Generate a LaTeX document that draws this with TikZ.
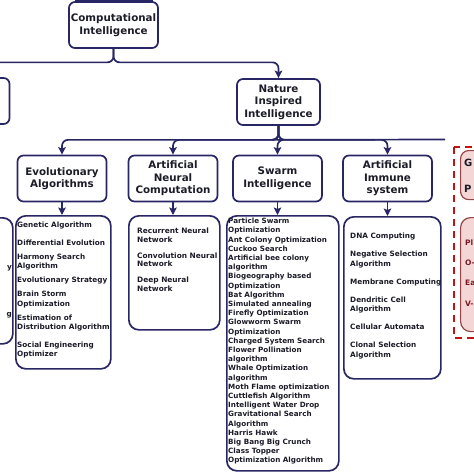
\documentclass[tikz,border=0pt]{standalone}
\usepackage{fontspec}
\setmainfont{DejaVu Sans}
\usepackage{tikz}
\usetikzlibrary{arrows.meta}
\usetikzlibrary{positioning}

\definecolor{navy}{RGB}{40,38,100}
\definecolor{ink}{RGB}{28,28,40}
\definecolor{dashred}{RGB}{190,20,20}
\definecolor{pinkfill}{RGB}{245,214,214}
\definecolor{pinkline}{RGB}{150,70,70}
\definecolor{maroon}{RGB}{120,25,35}

\begin{document}
\begin{tikzpicture}[x=1pt,y=-1pt,
    headbox/.style={draw=navy,line width=1.7pt,rounded corners=6pt,fill=white,
      minimum width=89pt,minimum height=46pt,inner sep=0pt,align=center,
      text=ink,font=\bfseries\fontsize{10.3}{12.5}\selectfont},
    listbox/.style={draw=navy,line width=1.7pt,rounded corners=10pt,fill=white,
      anchor=north west,inner sep=0pt},
    listtext/.style={anchor=north west,align=left,inner sep=0pt,text=ink,
      font=\bfseries\fontsize{7.3}{9.5}\selectfont},
    conn/.style={draw=navy,line width=1.7pt,rounded corners=6pt},
    arr/.style={conn,-{Stealth[length=7.5pt,width=7.5pt,inset=1.5pt]}}]
    \useasboundingbox (0,0) rectangle (474,474);
    \clip (0,0) rectangle (474,474);

    % first level
    \fill[navy] (75,0) rectangle (153,1.5);
    \node[headbox] (CI) at (113.5,25) {Computational\\Intelligence};
    \node[headbox] (LI) at (-35,101) {};
    \node[headbox,minimum width=83pt] (NII) at (278.5,102) {Nature\\Inspired\\Intelligence};

    % second level
    \node[headbox] (EA) at (62,178.5) {Evolutionary\\Algorithms};
    \node[headbox] (ANC) at (173,178.5) {Artificial\\Neural\\Computation};
    \node[headbox] (SI) at (277.5,178.5) {Swarm\\Intelligence};
    \node[headbox] (AIS) at (387.5,178.5) {Artificial\\Immune\\system};

    % list boxes
    \node[listbox,minimum width=92pt,minimum height=126pt] (LIlist) at (-80,217) {};
    \node[listbox,minimum width=95pt,minimum height=153pt] (EAlist) at (15,215) {};
    \node[listbox,minimum width=91pt,minimum height=114pt] (ANClist) at (128,215) {};
    \node[listbox,minimum width=112pt,minimum height=255pt] (SIlist) at (226,215) {};
    \node[listbox,minimum width=97pt,minimum height=162pt] (AISlist) at (343,216) {};

    \node[listtext,anchor=east] (LIa) at (12,268) {y};
    \node[listtext,anchor=east] (LIb) at (12,315) {g};

    \node[listtext] (EAtxt) at (17,222) {Genetic Algorithm\\[8pt]
      Differential Evolution\\[4.5pt]
      Harmony Search\\Algorithm\\[4.5pt]
      Evolutionary Strategy\\[4.5pt]
      Brain Storm\\Optimization\\[4.5pt]
      Estimation of\\Distribution Algorithm\\[8pt]
      Social Engineering\\Optimizer};

    \node[listtext,font=\bfseries\fontsize{7.4}{8.5}\selectfont] (ANCtxt) at (137,228) {Recurrent Neural\\Network\\[7.5pt]
      Convolution Neural\\Network\\[7.5pt]
      Deep Neural\\Network};

    \node[listtext,font=\bfseries\fontsize{7.2}{9.2}\selectfont] (SItxt) at (228,218) {Particle Swarm\\Optimization\\
      Ant Colony Optimization\\Cuckoo Search\\Artificial bee colony\\algorithm\\
      Biogeography based\\Optimization\\Bat Algorithm\\Simulated annealing\\
      Firefly Optimization\\Glowworm Swarm\\Optimization\\Charged System Search\\
      Flower Pollination\\algorithm\\Whale Optimization\\algorithm\\
      Moth Flame optimization\\Cuttlefish Algorithm\\Intelligent Water Drop\\
      Gravitational Search\\Algorithm\\Harris Hawk\\Big Bang Big Crunch\\
      Class Topper\\Optimization Algorithm};

    \node[listtext] (AIStxt) at (350,233) {DNA Computing\\[8.5pt]
      Negative Selection\\Algorithm\\[8.5pt]
      Membrane Computing\\[8.5pt]
      Dendritic Cell\\Algorithm\\[8.5pt]
      Cellular Automata\\[8.5pt]
      Clonal Selection\\Algorithm};

    % dashed group on the right
    \draw[dashred,line width=2pt,dash pattern=on 7pt off 5pt] (454,147) rectangle (530,338);
    \node[draw=pinkline,fill=pinkfill,line width=1.2pt,rounded corners=8pt,anchor=north west,
      minimum width=60pt,minimum height=49pt,inner sep=0pt] (GP) at (460,150) {};
    \node[draw=pinkline,fill=pinkfill,line width=1.2pt,rounded corners=10pt,anchor=north west,
      minimum width=60pt,minimum height=114pt,inner sep=0pt] (GPlist) at (460,217) {};
    \node[anchor=west,inner sep=0pt,text=ink,font=\bfseries\fontsize{10}{12}\selectfont] (GPa) at (464,163) {G};
    \node[anchor=west,inner sep=0pt,text=ink,font=\bfseries\fontsize{10}{12}\selectfont] (GPb) at (464,189) {P};
    \node[anchor=west,inner sep=0pt,text=maroon,font=\bfseries\fontsize{7.5}{9}\selectfont] (GPc) at (465,243) {Pl};
    \node[anchor=west,inner sep=0pt,text=maroon,font=\bfseries\fontsize{7.5}{9}\selectfont] (GPd) at (465,263) {O-};
    \node[anchor=west,inner sep=0pt,text=maroon,font=\bfseries\fontsize{7.5}{9}\selectfont] (GPe) at (465,283) {Ea};
    \node[anchor=west,inner sep=0pt,text=maroon,font=\bfseries\fontsize{7.5}{9}\selectfont] (GPf) at (465,304) {V-};

    % connectors
    \coordinate (busend) at (445,139.5);
    \draw[arr] (CI.south) -- ++(0,13.5) -| (LI.north);
    \draw[arr] (CI.south) -- ++(0,13.5) -| (NII.north);
    \draw[conn] (NII.south) -- ++(0,14) -- (busend);
    \foreach \s/\t in {EA/EAlist, ANC/ANClist, SI/SIlist, AIS/AISlist}{
      \draw[arr] (NII.south) -- ++(0,14) -| (\s.north);
      \draw[arr] (\s.south) -- (\s.south |- \t.north);
    }
\end{tikzpicture}
\end{document}
